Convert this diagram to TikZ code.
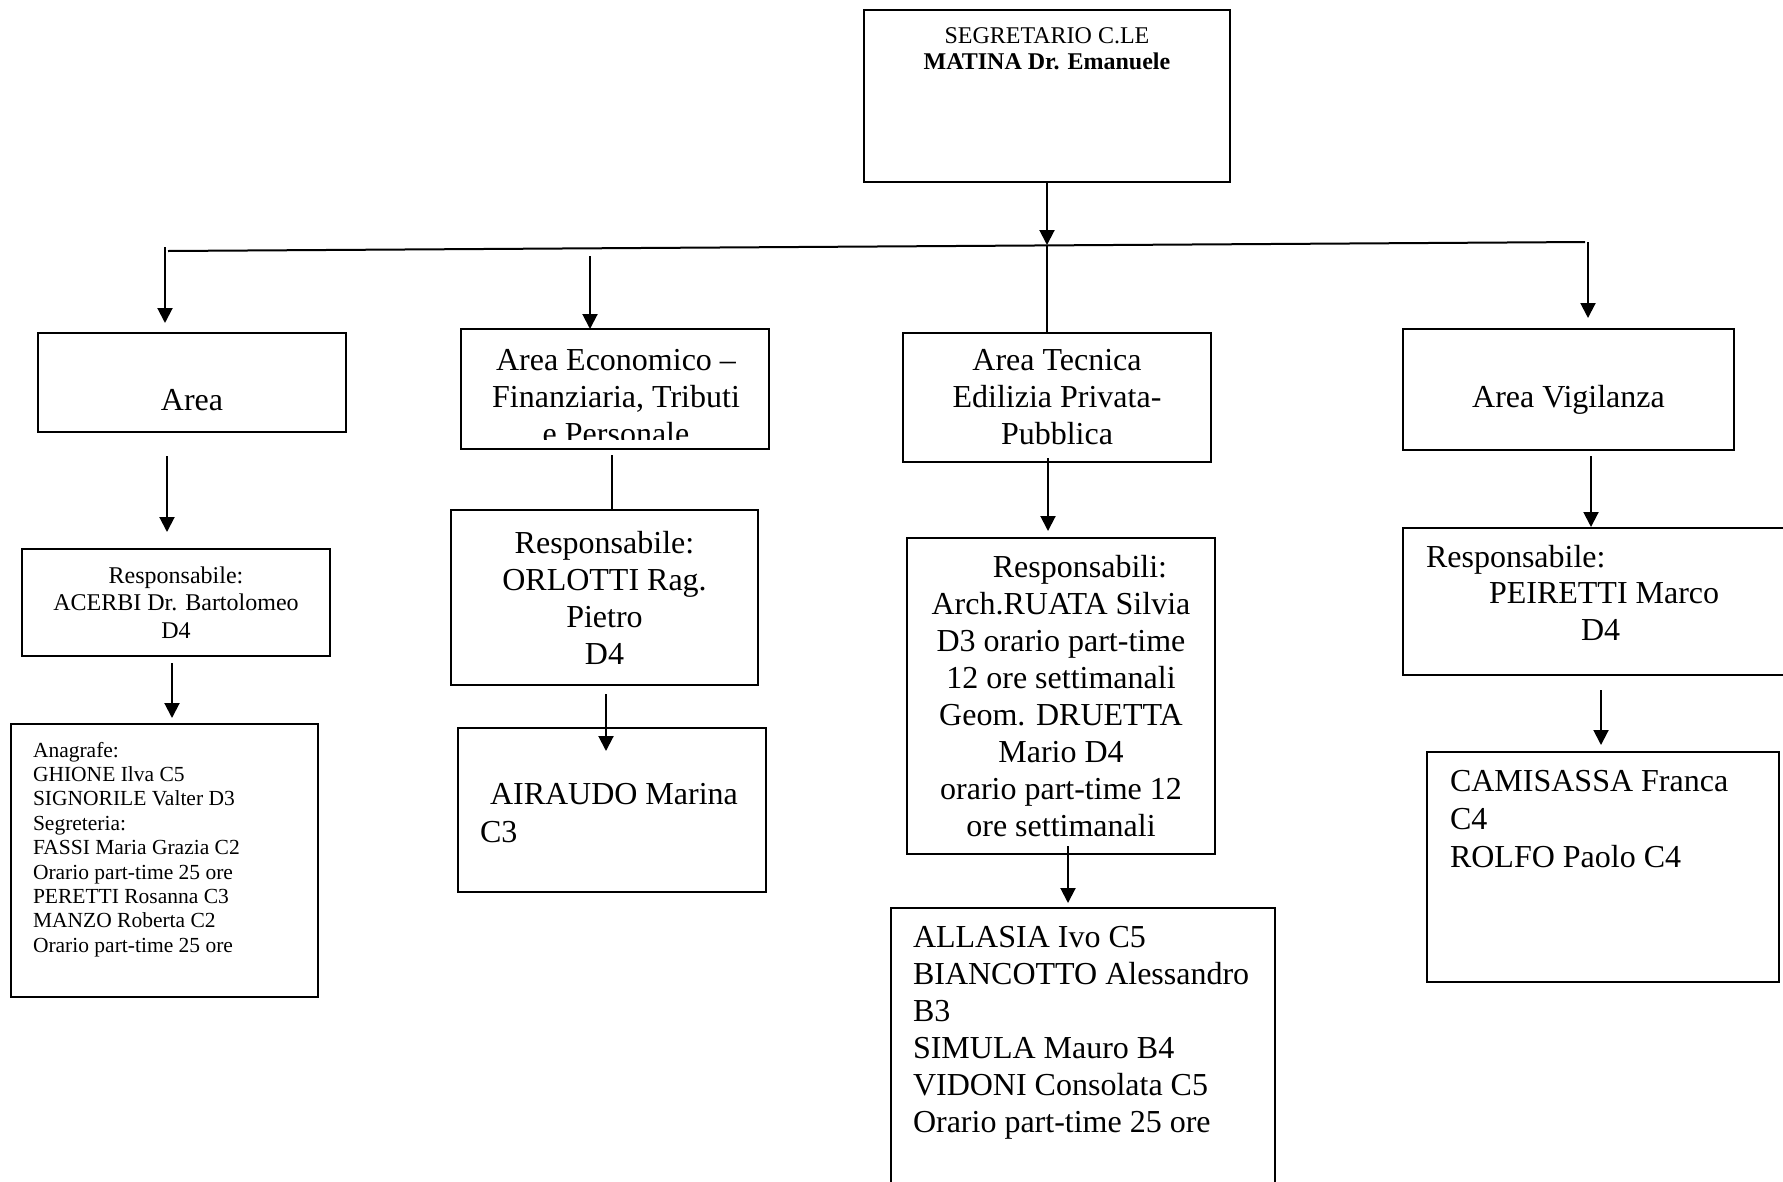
\documentclass[tikz,border=0pt]{standalone}
\usepackage{fontspec}
\setmainfont{Liberation Serif}
\usetikzlibrary{arrows.meta, positioning}

\begin{document}
\begin{tikzpicture}[x=1pt,y=-1pt,>={Triangle[width=15pt,length=15pt]},line width=2pt,
	box/.style={draw, rectangle, inner sep=0pt, outer sep=0pt},
	bigtxt/.style={font=\fontsize{32}{37}\selectfont, inner sep=0pt},
	midtxt/.style={font=\fontsize{24}{27.5}\selectfont, inner sep=0pt},
	smalltxt/.style={font=\fontsize{21.5}{24.4}\selectfont, inner sep=0pt}]
	
	\fill[white] (0,0) rectangle (1783,1181);
	\useasboundingbox (0,0) rectangle (1783,1181);
	
	\node (segr) [box, minimum width=366pt, minimum height=172pt] at (1047,96) {};
	\node (segr-t) [smalltxt, font=\fontsize{24}{26}\selectfont, align=center, below=17pt of segr.north] {SEGRETARIO C.LE\\\textbf{MATINA Dr. Emanuele}};
	
	\node (area1) [box, minimum width=308pt, minimum height=99pt] at (192,382.5) {};
	\node (area1-t) [bigtxt, anchor=base] at ([shift={(0,27.5)}]area1.center) {Area};
	\node (resp1) [box, midtxt, align=center, minimum width=308pt, minimum height=107pt] at (176,602.5) {Responsabile:\\ACERBI Dr. Bartolomeo\\D4};
	\node (staff1) [box, minimum width=307pt, minimum height=273pt] at (164.5,860.5) {};
	\node (staff1-t) [smalltxt, align=left, below right=17pt and 21pt of staff1.north west] {Anagrafe:\\GHIONE Ilva C5\\SIGNORILE Valter D3\\Segreteria:\\FASSI Maria Grazia C2\\Orario part-time 25 ore\\PERETTI Rosanna C3\\MANZO Roberta C2\\Orario part-time 25 ore};
	
	\node (area2) [box, minimum width=308pt, minimum height=120pt] at (615,389) {};
	\begin{scope}
		\clip (area2.north west) rectangle ([yshift=10pt]area2.south east);
		\node (area2-t) [bigtxt, align=center] at ([shift={(1,8.5)}]area2.center) {Area Economico --\\Finanziaria, Tributi\\e Personale};
	\end{scope}
	\node (resp2) [box, bigtxt, align=center, minimum width=307pt, minimum height=175pt] at (604.5,597.5) {Responsabile:\\ORLOTTI Rag.\\Pietro\\D4};
	\node (staff2) [box, minimum width=308pt, minimum height=164pt] at (612,810) {};
	\node (staff2-t) [bigtxt, font=\fontsize{32}{38}\selectfont, align=left, below right=54pt and 21pt of staff2.north west] {\hspace*{10pt}AIRAUDO Marina\\C3};
	
	\node (area3) [box, bigtxt, align=center, minimum width=308pt, minimum height=129pt] at (1057,397.5) {Area Tecnica\\Edilizia Privata-\\Pubblica};
	\node (resp3) [box, bigtxt, align=center, minimum width=308pt, minimum height=316pt] at (1061,696) {\hspace*{38pt}Responsabili:\\Arch.RUATA Silvia\\D3 orario part-time\\12 ore settimanali\\Geom. DRUETTA\\Mario D4\\orario part-time 12\\ore settimanali};
	\node (staff3) [box, minimum width=384pt, minimum height=292pt] at (1083,1054) {};
	\node (staff3-t) [bigtxt, align=left, below right=17pt and 21pt of staff3.north west] {ALLASIA Ivo C5\\BIANCOTTO Alessandro\\B3\\SIMULA Mauro B4\\VIDONI Consolata C5\\Orario part-time 25 ore};
	
	\node (area4) [box, minimum width=331pt, minimum height=121pt] at (1568.5,389.5) {};
	\node (area4-t) [bigtxt, anchor=base] at ([shift={(0,17.5)}]area4.center) {Area Vigilanza};
	\node (resp4) [box, minimum width=397pt, minimum height=147pt] at (1601.5,601.5) {};
	\node (resp4-t) [bigtxt, font=\fontsize{32}{36.5}\selectfont, align=left, below right=16pt and 22pt of resp4.north west] {Responsabile:\\\hspace*{63pt}PEIRETTI Marco\\\hspace*{155pt}D4};
	\node (staff4) [box, minimum width=352pt, minimum height=230pt] at (1603,867) {};
	\node (staff4-t) [bigtxt, font=\fontsize{32}{38}\selectfont, align=left, below right=17pt and 22pt of staff4.north west] {CAMISASSA Franca\\C4\\ROLFO Paolo C4};
	
	\coordinate (busL) at (168,251);
	\coordinate (busR) at (1585,242);
	\coordinate (hub) at (1047,245);
	\coordinate (drop1) at (165,247);
	\coordinate (drop2) at (590,256);
	\coordinate (drop4) at (1588,242);
	
	\draw (busL) -- (busR);
	\path [->]
	(segr) edge (hub)
	(hub) edge[-] (hub |- area3.north)
	(drop1) edge ([shift={(-27,-10)}]area1.north)
	(drop2) edge (drop2 |- area2.north)
	(drop4) edge ([shift={(19.5,-11)}]area4.north)
	([shift={(-25,24)}]area1.south) edge ([shift={(-9,-17)}]resp1.north)
	([shift={(-4,7)}]resp1.south) edge ([shift={(7.5,-6)}]staff1.north)
	([shift={(-3,6)}]area2.south) edge[-] ([shift={(7.5,0)}]resp2.north)
	([shift={(1.5,9)}]resp2.south) edge ([shift={(-6,23)}]staff2.north)
	([shift={(-9,-4)}]area3.south) edge ([shift={(-13,-7)}]resp3.north)
	([shift={(7,-8)}]resp3.south) edge ([shift={(-15,-5)}]staff3.north)
	([shift={(22.5,6)}]area4.south) edge ([shift={(-10.5,-1)}]resp4.north)
	([shift={(-0.5,15)}]resp4.south) edge ([shift={(-2,-7)}]staff4.north);
	
\end{tikzpicture}
\end{document}
